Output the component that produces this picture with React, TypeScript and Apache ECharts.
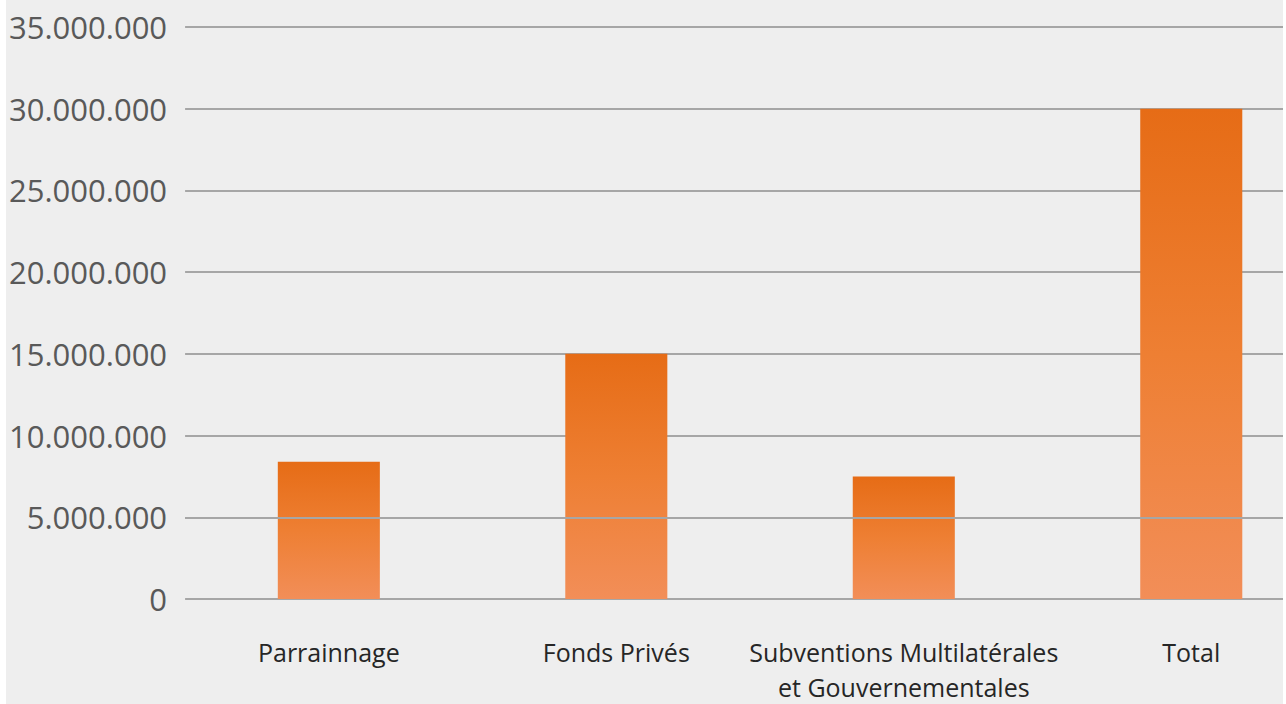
import React, { useEffect, useRef } from "react";
import * as echarts from "echarts";

const categories = ["Parrainnage", "Fonds Privés", "Subventions Multilatérales\net Gouvernementales", "Total"];
const values = [8400000, 15000000, 7500000, 30000000];
const yMax = 35000000;
const yStep = 5000000;

function fmt(v: number): string {
  return String(Math.round(v)).replace(/\B(?=(\d{3})+(?!\d))/g, ".");
}

export default function App() {
  const ref = useRef<HTMLDivElement>(null);
  useEffect(() => {
    if (!ref.current) return;
    const chart = echarts.init(ref.current, undefined, { renderer: "svg" });
    chart.setOption({
      animation: false,
      backgroundColor: "transparent",
      grid: { left: 179, right: 11, top: 27, bottom: 98, containLabel: false },
      xAxis: {
        type: "category",
        data: categories,
        axisLine: { show: false },
        axisTick: { show: false },
        axisLabel: {
          margin: 35,
          color: "#262626",
          fontFamily: "Open Sans",
          fontSize: 25,
          lineHeight: 35,
          interval: 0,
        },
      },
      yAxis: {
        type: "value",
        min: 0,
        max: yMax,
        interval: yStep,
        axisLine: { show: false },
        axisTick: { show: false },
        splitLine: { lineStyle: { color: "#a6a6a6", width: 2 } },
        axisLabel: {
          margin: 18,
          color: "#595959",
          fontFamily: "Open Sans",
          fontSize: 31,
          formatter: (v: number) => fmt(v),
        },
      },
      series: [
        {
          type: "bar",
          data: values,
          barWidth: "35.5%",
          itemStyle: {
            color: new echarts.graphic.LinearGradient(0, 0, 0, 1, [
              { offset: 0, color: "#e66c16" },
              { offset: 0.5, color: "#ee7f33" },
              { offset: 1, color: "#f28e58" },
            ]),
          },
          markLine: {
            silent: true,
            symbol: "none",
            label: { show: false },
            lineStyle: { color: "#a6a6a6", width: 2, type: "solid" },
            data: [{ yAxis: yStep }],
          },
        },
      ],
    });
    return () => chart.dispose();
  }, []);
  return (
    <div style={{ position: "absolute", left: 6, top: 0, width: 1277, height: 704, overflow: "hidden", background: "#eeeeee" }}>
      <div ref={ref} style={{ width: 1340, height: 704 }} />
    </div>
  );
}
